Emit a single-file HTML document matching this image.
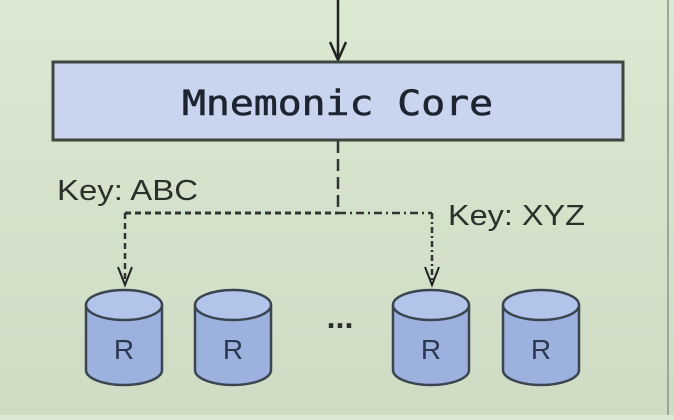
<!DOCTYPE html>
<html><head><style>
html,body{margin:0;padding:0;}
body{width:674px;height:415px;overflow:hidden;background:linear-gradient(#dbe8d2,#cfdcc4);}
</style></head><body>
<svg width="674" height="415" viewBox="0 0 674 415" xmlns="http://www.w3.org/2000/svg">
<line x1="668" y1="0" x2="668" y2="415" stroke="#9aa79a" stroke-width="2"/>
<line x1="338" y1="0" x2="338" y2="60" stroke="#222" stroke-width="2.5"/>
<path d="M330 42 L338 60 L346 42" fill="none" stroke="#222" stroke-width="2.5"/>
<rect x="53" y="62" width="570" height="78" fill="#c9d5ef" stroke="#3d463f" stroke-width="3"/>
<text x="182" y="115" textLength="311" lengthAdjust="spacingAndGlyphs" font-family="'DejaVu Sans Mono','Liberation Mono',monospace" font-size="35" fill="#1d2530" stroke="#1d2530" stroke-width="0.6">Mnemonic Core</text>
<line x1="338" y1="141" x2="338" y2="213" stroke="#333" stroke-width="2.5" stroke-dasharray="12,6"/>
<line x1="125" y1="213" x2="338" y2="213" stroke="#333" stroke-width="3" stroke-dasharray="6,4"/>
<line x1="338" y1="213" x2="432" y2="213" stroke="#333" stroke-width="2.5" stroke-dasharray="8,4,2,4"/>
<line x1="125" y1="213" x2="125" y2="283" stroke="#333" stroke-width="2.5" stroke-dasharray="6,4"/>
<line x1="432" y1="213" x2="432" y2="283" stroke="#333" stroke-width="2.5" stroke-dasharray="6,3,2,3"/>
<path d="M118 267 L125 285 L132 267" fill="none" stroke="#222" stroke-width="2"/>
<path d="M425 267 L432 285 L439 267" fill="none" stroke="#222" stroke-width="2"/>
<text x="57" y="200" textLength="141" lengthAdjust="spacingAndGlyphs" font-family="'Liberation Sans',sans-serif" font-size="29" fill="#2a312a">Key: ABC</text>
<text x="448" y="225" textLength="137" lengthAdjust="spacingAndGlyphs" font-family="'Liberation Sans',sans-serif" font-size="29" fill="#2a312a">Key: XYZ</text>
<text x="340" y="328" text-anchor="middle" font-family="'Liberation Sans',sans-serif" font-size="32" font-weight="bold" fill="#2a312a">...</text>
<g font-family="'Liberation Sans',sans-serif" font-size="28" fill="#2c3850" text-anchor="middle">
<g transform="translate(124,0)"><path d="M-38 305 L-38 370 A38 15 0 0 0 38 370 L38 305" fill="#9cb1de" stroke="#3a4550" stroke-width="2.5"/><ellipse cx="0" cy="305" rx="38" ry="15" fill="#b3c4ea" stroke="#3a4550" stroke-width="2.5"/><text x="0" y="359">R</text></g>
<g transform="translate(233,0)"><path d="M-38 305 L-38 370 A38 15 0 0 0 38 370 L38 305" fill="#9cb1de" stroke="#3a4550" stroke-width="2.5"/><ellipse cx="0" cy="305" rx="38" ry="15" fill="#b3c4ea" stroke="#3a4550" stroke-width="2.5"/><text x="0" y="359">R</text></g>
<g transform="translate(431,0)"><path d="M-38 305 L-38 370 A38 15 0 0 0 38 370 L38 305" fill="#9cb1de" stroke="#3a4550" stroke-width="2.5"/><ellipse cx="0" cy="305" rx="38" ry="15" fill="#b3c4ea" stroke="#3a4550" stroke-width="2.5"/><text x="0" y="359">R</text></g>
<g transform="translate(541,0)"><path d="M-38 305 L-38 370 A38 15 0 0 0 38 370 L38 305" fill="#9cb1de" stroke="#3a4550" stroke-width="2.5"/><ellipse cx="0" cy="305" rx="38" ry="15" fill="#b3c4ea" stroke="#3a4550" stroke-width="2.5"/><text x="0" y="359">R</text></g>
</g>
</svg>
</body></html>
